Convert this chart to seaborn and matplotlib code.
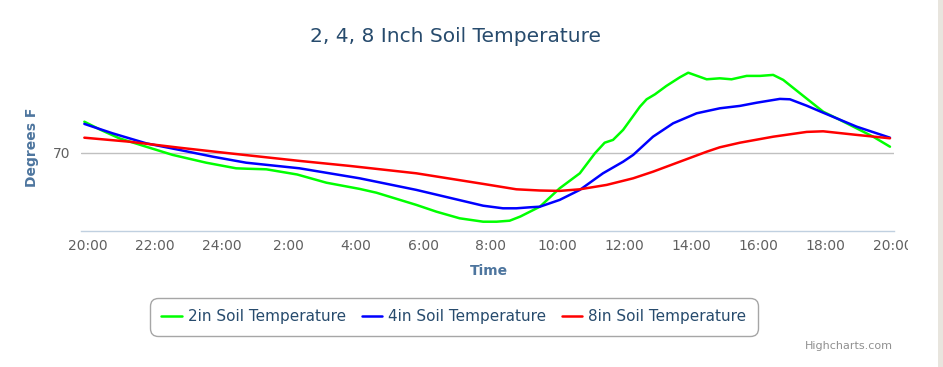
import matplotlib
matplotlib.use("Agg")
import matplotlib.pyplot as plt
import seaborn as sns
import pandas as pd
from matplotlib.patches import Rectangle
from matplotlib.lines import Line2D

# ---- data (hours after 20:00, degrees F) ----
hours_2in = [-0.09, 0.36, 0.95, 1.75, 2.54, 3.54, 4.43, 4.73, 5.33, 6.25, 7.12, 8.11, 8.61,
             9.80, 10.40, 11.09, 11.79, 12.19, 12.58, 12.90, 13.48, 14.07, 14.67, 15.12,
             15.41, 15.66, 15.96, 16.46, 16.66, 16.91, 17.25, 17.65, 17.90, 18.45, 18.84,
             19.19, 19.64, 20.04, 20.43, 20.73, 21.23, 21.92, 22.42, 23.41, 23.91]
temp_2in = [71.54, 71.16, 70.71, 70.29, 69.88, 69.49, 69.21, 69.19, 69.16, 68.90, 68.49, 68.18, 67.99,
            67.38, 67.04, 66.71, 66.54, 66.54, 66.59, 66.80, 67.29, 68.21, 68.96, 69.96,
            70.49, 70.63, 71.13, 72.29, 72.66, 72.91, 73.33, 73.76, 73.99, 73.66, 73.71,
            73.66, 73.83, 73.83, 73.88, 73.63, 72.96, 72.04, 71.63, 70.79, 70.29]

hours_4in = [-0.09, 0.75, 1.75, 2.74, 3.74, 4.73, 6.32, 8.11, 9.80, 11.79, 12.38, 12.78, 13.18,
             13.48, 14.07, 14.67, 15.36, 15.96, 16.26, 16.85, 17.45, 18.15, 18.84, 19.44,
             19.94, 20.63, 20.93, 21.43, 21.92, 22.92, 23.91]
temp_4in = [71.43, 70.96, 70.46, 70.13, 69.79, 69.49, 69.21, 68.71, 68.13, 67.34, 67.21, 67.21, 67.26,
            67.29, 67.63, 68.13, 68.96, 69.54, 69.88, 70.79, 71.46, 71.96, 72.21, 72.33,
            72.49, 72.68, 72.66, 72.34, 71.99, 71.29, 70.74]

hours_8in = [-0.09, 1.25, 2.74, 4.23, 6.32, 7.81, 9.80, 11.79, 12.78, 13.48, 14.07, 14.67,
             15.47, 16.26, 16.85, 17.65, 18.45, 18.84, 19.44, 20.43, 21.43, 21.92, 22.92, 23.91]
temp_8in = [70.74, 70.54, 70.24, 69.96, 69.58, 69.33, 68.96, 68.43, 68.16, 68.10, 68.08, 68.16,
            68.38, 68.71, 69.04, 69.54, 70.04, 70.26, 70.49, 70.79, 71.03, 71.06, 70.88, 70.71]

series_names = ["2in Soil Temperature", "4in Soil Temperature", "8in Soil Temperature"]
series_colors = ["#00ff00", "#0000ff", "#ff0000"]

tick_hours = [0, 2, 4, 6, 8, 10, 12, 14, 16, 18, 20, 22, 24]
tick_labels = ["20:00", "22:00", "24:00", "2:00", "4:00", "6:00", "8:00",
               "10:00", "12:00", "14:00", "16:00", "18:00", "20:00"]
y_ticks = [70]

# ---- build long table ----
frames = []
for name, hrs, tmp in zip(series_names, [hours_2in, hours_4in, hours_8in],
                          [temp_2in, temp_4in, temp_8in]):
    frames.append(pd.DataFrame({"hours": hrs, "temp": tmp, "series": name}))
df = pd.concat(frames, ignore_index=True)

sns.set_theme(style="white")
plt.rcParams["font.family"] = ["DejaVu Sans"]

W, H = 943, 367
fig = plt.figure(figsize=(W / 100, H / 100), dpi=100)
fig.patch.set_facecolor("white")

# plot area in pixels
L, R, T, B = 81, 894, 62, 230.5
ax = fig.add_axes([L / W, 1 - B / H, (R - L) / W, (B - T) / H])
ax.set_facecolor("white")

palette = dict(zip(series_names, series_colors))
sns.lineplot(data=df, x="hours", y="temp", hue="series", palette=palette,
             hue_order=series_names, estimator=None, linewidth=1.8, legend=False, ax=ax)
for ln in ax.get_lines():
    ln.set_solid_joinstyle("round")
    ln.set_solid_capstyle("round")

ax.set_xlim(-0.19, 24.03)
ax.set_ylim(70 - (B - 152.5) / 20, 70 + (152.5 - T) / 20)

for s in ["top", "right", "left"]:
    ax.spines[s].set_visible(False)
ax.spines["bottom"].set_color("#c0d0e0")
ax.spines["bottom"].set_linewidth(1)

ax.set_xticks([-0.19] + tick_hours)
ax.set_xticklabels([""] + tick_labels)
ax.tick_params(axis="x", direction="out", length=5, width=1, color="#c0d0e0",
               labelsize=10, labelcolor="#606060", pad=1)
ax.set_yticks(y_ticks)
ax.set_yticklabels([str(v) for v in y_ticks])
ax.tick_params(axis="y", length=0, labelsize=10, labelcolor="#606060", pad=8)
ax.grid(False)
ax.axhline(70, color="#c0c0c0", linewidth=1, zorder=0)

ax.set_xlabel("Time", fontsize=10, fontweight="bold", color="#4d759e")
ax.set_ylabel("Degrees F", fontsize=10, fontweight="bold", color="#4d759e")
ax.xaxis.label.set_va("center")
ax.yaxis.label.set_va("center")
ax.xaxis.set_label_coords((489 - L) / (R - L), (B - 271) / (B - T))
ax.yaxis.set_label_coords((32 - L) / (R - L), (B - 147) / (B - T))

fig.text(455 / W, 1 - 36 / H, "2, 4, 8 Inch Soil Temperature", ha="center", va="center",
         fontsize=14.5, color="#274b6d")

handles = [Line2D([0], [0], color=c, linewidth=1.8) for c in series_colors]
leg = fig.legend(handles, series_names, loc="center", bbox_to_anchor=(454 / W, 1 - 317 / H),
                 ncol=3, frameon=True, fancybox=True, fontsize=11, handlelength=1.35,
                 handletextpad=0.4, columnspacing=1.0, borderpad=0.75)
for t in leg.get_texts():
    t.set_color("#274b6d")
frame = leg.get_frame()
frame.set_edgecolor("#909090")
frame.set_linewidth(1)
frame.set_boxstyle("round,pad=0,rounding_size=0.5")

fig.text(893 / W, 1 - 346 / H, "Highcharts.com", ha="right", va="center",
         fontsize=8, color="#909090")

# clipped last label area and right-hand grey band
fig.patches.append(Rectangle((907.7 / W, 1 - 256 / H), (937.7 - 907.7) / W, 20 / H,
                             transform=fig.transFigure, facecolor="white",
                             edgecolor="none", zorder=10))
fig.patches.append(Rectangle((937.7 / W, 0), (W - 937.7) / W, 1,
                             transform=fig.transFigure, facecolor="#e8e5de",
                             edgecolor="none", zorder=10))

fig.savefig("out.png", dpi=100)
